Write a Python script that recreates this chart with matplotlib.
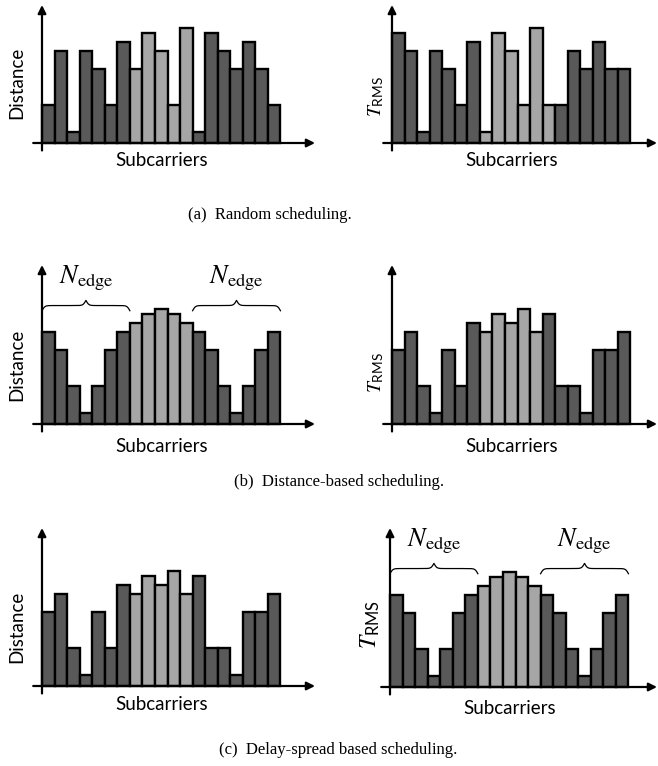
import numpy as np
import matplotlib
matplotlib.use('Agg')
import matplotlib.pyplot as plt

plt.rcParams['mathtext.fontset'] = 'stix'
plt.rcParams['font.family'] = 'Lato'

# bar heights, relative to the tallest bar
a_left = [0.33, 0.80, 0.10, 0.80, 0.64, 0.33, 0.88, 0.64, 0.96, 0.80, 0.33, 1.00, 0.10, 0.96, 0.80, 0.64, 0.88, 0.64, 0.33]
a_right = [0.96, 0.80, 0.10, 0.80, 0.64, 0.33, 0.88, 0.10, 0.96, 0.80, 0.33, 1.00, 0.33, 0.33, 0.80, 0.64, 0.88, 0.64, 0.64]
b_left = [0.80, 0.64, 0.33, 0.10, 0.33, 0.64, 0.80, 0.88, 0.96, 1.00, 0.96, 0.88, 0.80, 0.64, 0.33, 0.10, 0.33, 0.64, 0.80]
b_right = [0.64, 0.80, 0.33, 0.10, 0.64, 0.33, 0.88, 0.80, 0.96, 0.88, 1.00, 0.80, 0.96, 0.33, 0.33, 0.10, 0.64, 0.64, 0.80]
c_left = [0.64, 0.80, 0.33, 0.10, 0.64, 0.33, 0.88, 0.80, 0.96, 0.88, 1.00, 0.80, 0.96, 0.33, 0.33, 0.10, 0.64, 0.64, 0.80]
c_right = [0.80, 0.64, 0.33, 0.10, 0.33, 0.64, 0.80, 0.88, 0.96, 1.00, 0.96, 0.88, 0.80, 0.64, 0.33, 0.10, 0.33, 0.64, 0.80]

# which subcarriers are drawn light grey
light_a_left = list(range(7, 12))
light_a_right = list(range(7, 13))
light_mid = list(range(7, 12))

edge_groups = [(0, 7), (12, 19)]

captions = ['(a)  Random scheduling.', '(b)  Distance-based scheduling.', '(c)  Delay-spread based scheduling.']

DARK = '#595959'
LIGHT = '#a6a6a6'
W, H = 658, 766
UNIT_X = 12.55   # px per bar
UNIT_Y = 115.0   # px for the tallest bar

fig = plt.figure(figsize=(W / 100, H / 100), dpi=100)

TRMS = r'$\mathit{T}_{\mathregular{RMS}}$'


def brace(ax, x0, x1, y, h, beta=9.0):
    xs = np.linspace(x0, x1, 401)
    half = xs[:201]
    yh = (1 / (1 + np.exp(-beta * (half - half[0]))) +
          1 / (1 + np.exp(-beta * (half - half[-1]))))
    ys = np.concatenate([yh, yh[-2::-1]])
    ax.plot(xs, y + (ys - 1.0) * h, color='k', lw=0.9, clip_on=False)


def panel(x0, base, tipx, tipy, vals, light, ylabel, ysize, ylab_dx, ylab_dy, sub_dy, braces=False):
    ax = fig.add_axes([x0 / W, (H - base) / H, (tipx - x0) / W, (base - tipy) / H])
    ax.set_xlim(0, (tipx - x0) / UNIT_X)
    ax.set_ylim(0, (base - tipy) / UNIT_Y)
    ax.axis('off')
    n = len(vals)
    cols = [LIGHT if i in light else DARK for i in range(n)]
    ax.bar(np.arange(n), vals, width=1.0, align='edge', color=cols,
           edgecolor='k', linewidth=1.7, clip_on=False, zorder=2)
    xmax = (tipx - x0) / UNIT_X
    ymax = (base - tipy) / UNIT_Y
    arrow = dict(arrowstyle='-|>', color='k', lw=1.6, mutation_scale=12, shrinkA=0, shrinkB=0)
    ax.annotate('', xy=(xmax, 0), xytext=(-0.7, 0), arrowprops=arrow, annotation_clip=False, zorder=3)
    ax.annotate('', xy=(0, ymax), xytext=(0, -0.065), arrowprops=arrow, annotation_clip=False, zorder=3)
    ax.annotate('Subcarriers', xy=(n / 2, 0), xytext=(0, -sub_dy), textcoords='offset pixels',
                ha='center', va='center', fontsize=13.5, annotation_clip=False)
    if ylabel == 'Distance':
        ax.annotate('Distance', xy=(0, 0), xytext=(-ylab_dx, ylab_dy), textcoords='offset pixels',
                    ha='center', va='center', rotation=90, fontsize=ysize,
                    annotation_clip=False)
    else:
        ax.annotate(TRMS, xy=(0, 0), xytext=(-ylab_dx, ylab_dy), textcoords='offset pixels',
                    ha='center', va='center', rotation=90, fontsize=ysize, annotation_clip=False)
    if braces:
        for g0, g1 in edge_groups:
            brace(ax, g0, g1, 1.03, 0.09)
            ax.text((g0 + g1) / 2, 1.27, r'$N_{\mathrm{edge}}$', ha='center', va='center',
                    fontsize=19)
    return ax


panel(42, 143, 315, 5, a_left, light_a_left, 'Distance', 13.5, 25, 60, 17)
panel(392, 143, 657, 5, a_right, light_a_right, 'T', 14, 16, 46, 17)
panel(42, 424, 315, 265, b_left, light_mid, 'Distance', 13.5, 25, 59, 22, braces=True)
panel(392, 424, 657, 265, b_right, light_mid, 'T', 14, 16, 51, 22)
panel(42, 686, 315, 528, c_left, light_mid, 'Distance', 13.5, 25, 59, 19)
panel(390, 687, 657, 528, c_right, light_mid, 'T', 17, 20, 62, 21, braces=True)

cap_pos = [(270, 215), (339, 482), (338, 750)]
for (cx, cy), txt in zip(cap_pos, captions):
    fig.text(cx / W, 1 - cy / H, txt, ha='center', va='center', fontsize=12, family='Liberation Serif')

fig.savefig('out.png', dpi=100)
